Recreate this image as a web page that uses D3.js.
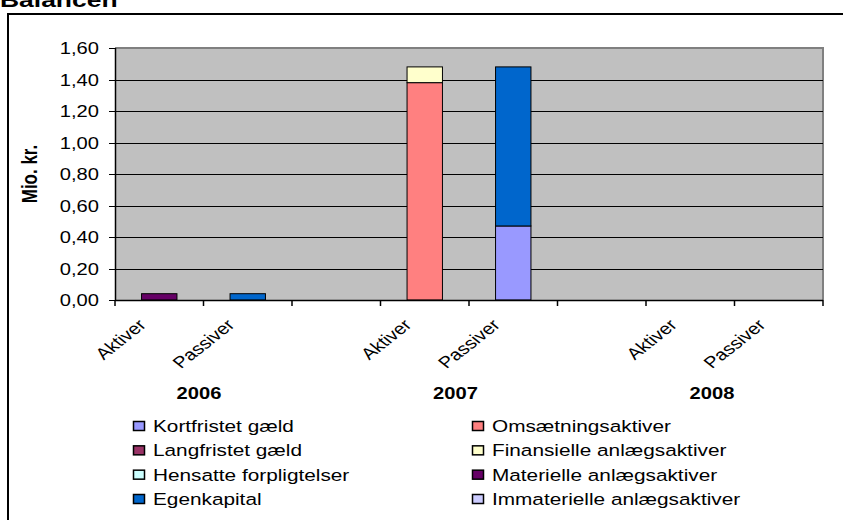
<!DOCTYPE html>
<html>
<head>
<meta charset="utf-8">
<script src="https://cdn.jsdelivr.net/npm/d3@7"></script>
<style>
  body { margin: 0; background: #fff; }
  svg { display: block; font-family: Arial, "Liberation Sans", sans-serif; }
  .tick-label { font-size: 16px; fill: #000; }
  .legend text { font-size: 16.5px; fill: #000; }
</style>
</head>
<body>
<svg width="843" height="520"></svg>
<script>
(function (d3) {
  'use strict';

  // kategorier (aktiver/passiver pr. år)
  const years = ['2006', '2007', '2008'];
  const sides = ['Aktiver', 'Passiver'];
  const slotKeys = ['2006 Aktiver', '2006 Passiver', '2007 Aktiver', '2007 Passiver', '2008 Aktiver', '2008 Passiver'];

  // serier, i samme rækkefølge som forklaringen
  const seriesNames = [
    'Kortfristet gæld', 'Omsætningsaktiver',
    'Langfristet gæld', 'Finansielle anlægsaktiver',
    'Hensatte forpligtelser', 'Materielle anlægsaktiver',
    'Egenkapital', 'Immaterielle anlægsaktiver'
  ];
  const kortfristet   = [0, 0, 0, 0.47, 0, 0];
  const omsaetning    = [0, 0, 1.38, 0, 0, 0];
  const langfristet   = [0, 0, 0, 0, 0, 0];
  const finansielle   = [0, 0, 0.10, 0, 0, 0];
  const hensatte      = [0, 0, 0, 0, 0, 0];
  const materielle    = [0.04, 0, 0, 0, 0, 0];
  const egenkapital   = [0, 0.04, 0, 1.01, 0, 0];
  const immaterielle  = [0, 0, 0, 0, 0, 0];
  const yTicks = [0, 0.2, 0.4, 0.6, 0.8, 1.0, 1.2, 1.4, 1.6];

  const COLORS = ['#9999FF', '#FF8080', '#993366', '#FFFFCC', '#CCFFFF', '#660066', '#0066CC', '#CCCCFF'];

  const seriesValues = [kortfristet, omsaetning, langfristet, finansielle, hensatte, materielle, egenkapital, immaterielle];

  const rows = slotKeys.map((k, i) => {
    const row = { key: k };
    seriesNames.forEach((s, j) => { row[s] = seriesValues[j][i]; });
    return row;
  });

  // aksens pladser inkl. tomme mellemrum mellem årene
  const slots = [];
  years.forEach((y, i) => {
    sides.forEach(s => slots.push(y + ' ' + s));
    if (i < years.length - 1) slots.push('gap' + i);
  });

  const PLOT = { left: 115, right: 823, top: 48, bottom: 300 };

  // teksten i originalen er strakt vandret
  const STRETCH = 1.26;
  const place = (x, y, rot) =>
    `translate(${x},${y}) scale(${STRETCH},1)` + (rot ? ` rotate(${rot})` : '');

  const svg = d3.select('svg');

  // titel (delvist skåret af i toppen)
  svg.append('text')
    .attr('transform', place(0, 7))
    .attr('font-size', 21).attr('font-weight', 'bold')
    .text('Balancen');

  // ramme
  svg.append('rect')
    .attr('x', 8).attr('y', 14)
    .attr('width', 900).attr('height', 600)
    .attr('fill', 'none').attr('stroke', '#000').attr('stroke-width', 2);

  const x = d3.scaleBand()
    .domain(slots)
    .range([PLOT.left, PLOT.right])
    .paddingInner(0.6)
    .paddingOuter(0.3);

  const y = d3.scaleLinear()
    .domain([0, 1.6])
    .range([PLOT.bottom, PLOT.top]);

  const fmt = d3.formatLocale({ decimal: ',', thousands: '.', grouping: [3], currency: ['', ' kr.'] }).format('.2f');

  // plotområde
  svg.append('rect')
    .attr('x', PLOT.left).attr('y', PLOT.top)
    .attr('width', PLOT.right - PLOT.left).attr('height', PLOT.bottom - PLOT.top)
    .attr('fill', '#C0C0C0');

  svg.append('path')
    .attr('d', `M${PLOT.left},${PLOT.top}H${PLOT.right}V${PLOT.bottom}`)
    .attr('fill', 'none').attr('stroke', '#808080').attr('stroke-width', 2);

  // gitterlinjer
  svg.append('g')
    .selectAll('line')
    .data(yTicks.filter(t => t > 0 && t < 1.6))
    .join('line')
    .attr('x1', PLOT.left).attr('x2', PLOT.right)
    .attr('y1', d => Math.round(y(d)) + 0.5).attr('y2', d => Math.round(y(d)) + 0.5)
    .attr('stroke', '#000').attr('stroke-width', 1);

  // stablede søjler
  const stacked = d3.stack().keys(seriesNames)(rows);

  svg.append('g')
    .selectAll('g')
    .data(stacked)
    .join('g')
    .attr('fill', (d, i) => COLORS[i])
    .selectAll('rect')
    .data(d => d.filter(p => p[1] - p[0] > 0))
    .join('rect')
    .attr('x', d => x(d.data.key))
    .attr('width', x.bandwidth())
    .attr('y', d => y(d[1]))
    .attr('height', d => y(d[0]) - y(d[1]))
    .attr('stroke', '#000').attr('stroke-width', 1);

  // y-akse
  const yAxisG = svg.append('g');
  yAxisG.append('line')
    .attr('x1', PLOT.left + 0.5).attr('x2', PLOT.left + 0.5)
    .attr('y1', PLOT.top).attr('y2', PLOT.bottom + 1)
    .attr('stroke', '#000').attr('stroke-width', 1.5);
  const yT = yAxisG.selectAll('g.yt').data(yTicks).join('g')
    .attr('transform', d => `translate(0,${Math.round(y(d)) + 0.5})`);
  yT.append('line')
    .attr('x1', PLOT.left - 6).attr('x2', PLOT.left)
    .attr('stroke', '#000').attr('stroke-width', 1);
  yT.append('text')
    .attr('class', 'tick-label')
    .attr('transform', place(PLOT.left - 16, 0))
    .attr('dy', '0.35em')
    .attr('text-anchor', 'end')
    .text(d => fmt(d));

  svg.append('text')
    .attr('transform', place(37, (PLOT.top + PLOT.bottom) / 2, -90))
    .attr('text-anchor', 'middle')
    .attr('font-size', 17).attr('font-weight', 'bold')
    .text('Mio. kr.');

  // x-akse
  const step = x.step();
  const xAxisG = svg.append('g');
  xAxisG.append('line')
    .attr('x1', PLOT.left).attr('x2', PLOT.right)
    .attr('y1', PLOT.bottom + 0.5).attr('y2', PLOT.bottom + 0.5)
    .attr('stroke', '#000').attr('stroke-width', 1.5);
  xAxisG.selectAll('line.xt')
    .data(d3.range(slots.length + 1))
    .join('line')
    .attr('class', 'xt')
    .attr('x1', i => PLOT.left + i * step).attr('x2', i => PLOT.left + i * step)
    .attr('y1', PLOT.bottom).attr('y2', PLOT.bottom + 6)
    .attr('stroke', '#000').attr('stroke-width', 1.5);

  xAxisG.selectAll('text.cat')
    .data(slots.filter(s => !s.startsWith('gap')))
    .join('text')
    .attr('class', 'tick-label cat')
    .attr('text-anchor', 'end')
    .attr('transform', d => place(x(d) + x.bandwidth() / 2 - 12, PLOT.bottom + 26, -45))
    .text(d => d.split(' ')[1]);

  const yearX = d3.scalePoint().domain(years).range([199, 712]);
  xAxisG.selectAll('text.year')
    .data(years)
    .join('text')
    .attr('class', 'year')
    .attr('transform', d => place(yearX(d), 399))
    .attr('text-anchor', 'middle')
    .attr('font-size', 16).attr('font-weight', 'bold')
    .text(d => d);

  // forklaring
  const legend = svg.append('g').attr('class', 'legend');
  const colX = [133, 472];
  const rowY = d3.scaleLinear().domain([0, 3]).range([426, 499]);
  const items = legend.selectAll('g')
    .data(seriesNames)
    .join('g')
    .attr('transform', (d, i) => `translate(${colX[i % 2]},${rowY(Math.floor(i / 2))})`);
  items.append('rect')
    .attr('x', 0.5).attr('y', -4.5)
    .attr('width', 11).attr('height', 9)
    .attr('fill', (d, i) => COLORS[i])
    .attr('stroke', '#000').attr('stroke-width', 1.5);
  items.append('text')
    .attr('transform', place(20, 0))
    .attr('dy', '0.36em')
    .text(d => d);

}(d3));
</script>
</body>
</html>
